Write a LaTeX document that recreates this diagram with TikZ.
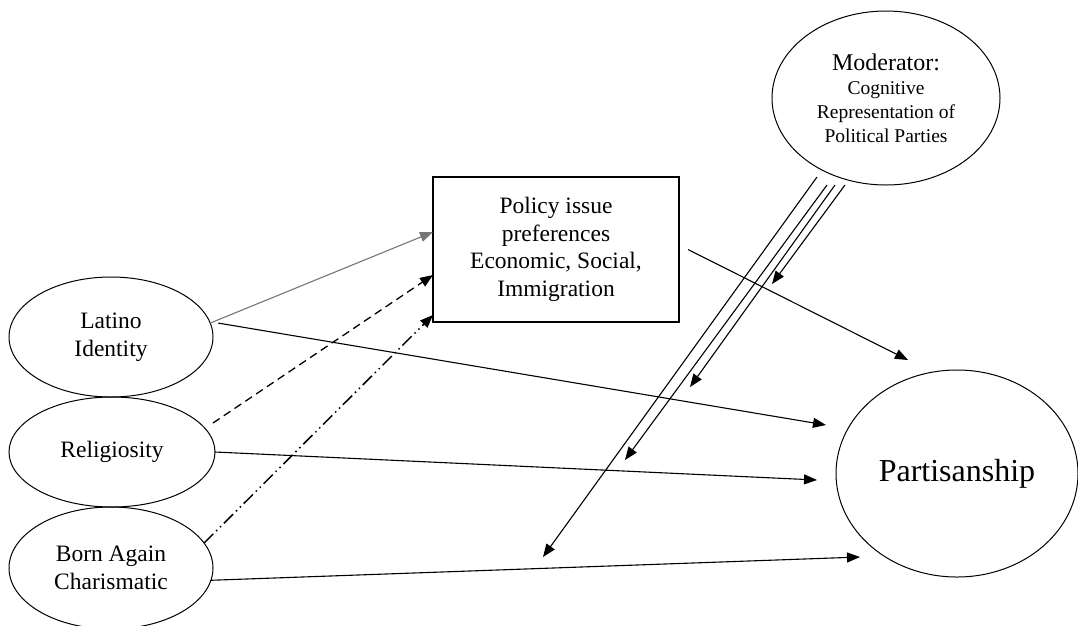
\documentclass[tikz,border=0pt]{standalone}
\usepackage{fontspec}
\setmainfont{Liberation Serif}
\usetikzlibrary{shapes.geometric,arrows.meta,calc}
\definecolor{linkgray}{RGB}{118,118,118}
\begin{document}
\begin{tikzpicture}[x=1pt,y=-1pt,
  every node/.style={inner sep=0pt, outer sep=0pt},
  oval/.style={draw, ellipse, line width=1pt, align=center},
  lbl/.style={font=\fontsize{23.5}{27.5}\selectfont},
  conn/.style={line width=1.1pt, -{Triangle[length=13pt,width=10pt]}},
  dashedconn/.style={conn, line width=1.3pt, dash pattern=on 8pt off 5pt},
  dotconn/.style={conn, line width=1.5pt,
    dash pattern=on 13pt off 4pt on 1.5pt off 4pt on 1.5pt off 4pt},
  modconn/.style={conn}
]
\useasboundingbox (0,0) rectangle (1078,625);

% constructs
\node[oval, lbl, minimum width=204pt, minimum height=120pt] (lat) at (111,337) {Latino\\Identity};
\node[oval, lbl, minimum width=206pt, minimum height=110pt] (rel) at (112,452) {Religiosity};
\node[oval, lbl, minimum width=204pt, minimum height=122pt] (born) at (111,568) {Born Again\\Charismatic};
\node[draw, rectangle, line width=1.2pt, align=center, lbl,
      minimum width=246pt, minimum height=145pt] (pol) at (556,249.5)
      {Policy issue\\preferences\\Economic, Social,\\Immigration};
\node[oval, font=\fontsize{19.5}{24}\selectfont, minimum width=228pt, minimum height=174pt] (mod) at (886,98)
      {{\fontsize{24}{24}\selectfont Moderator:}\\Cognitive\\Representation of\\Political Parties};
\node[oval, font=\fontsize{32}{36}\selectfont, minimum width=242pt, minimum height=207pt] (part) at (957,473.5) {Partisanship};

% arrow ends just short of the outcome
\coordinate (pTop) at (908,360);
\coordinate (pLat) at (826,425);
\coordinate (pRel) at (817,480);
\coordinate (pBorn) at (860,557);
\coordinate (relOut) at (213,423);

% moderator lines
\coordinate (m1s) at (817,177); \coordinate (m1e) at (543,557);
\coordinate (m2s) at (827,185); \coordinate (m2e) at (625,460);
\coordinate (m3s) at (835,185); \coordinate (m3e) at (690,387);
\coordinate (m4s) at (845,185); \coordinate (m4e) at (772,284);

% paths into the policy box
\draw[conn, linkgray] (lat.8) -- (pol.west |- 0,232);
\draw[dashedconn] (relOut) -- (pol.west |- 0,275);
\draw[dotconn] (born.15) -- (pol.west |- 0,315);

% direct paths to partisanship
\draw[conn] ($(lat.8)+(8,0)$) -- (pLat);
\draw[conn] (rel.east) -- (pRel);
\draw[conn] (born.-7) -- (pBorn);
\draw[conn] ($(pol.east)+(9,0)$) -- (pTop);

% moderating effects
\draw[modconn] (m1s) -- (m1e);
\draw[modconn] (m2s) -- (m2e);
\draw[modconn] (m3s) -- (m3e);
\draw[modconn] (m4s) -- (m4e);
\end{tikzpicture}
\end{document}
